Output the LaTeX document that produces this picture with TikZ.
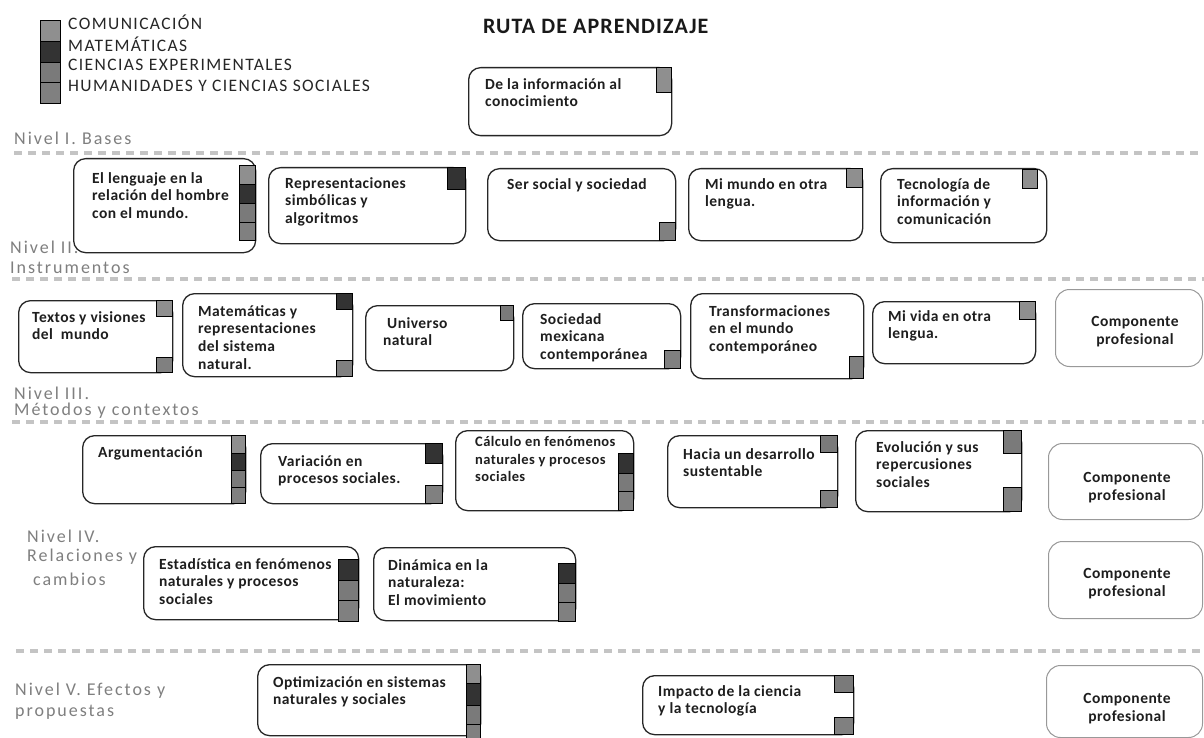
\documentclass[tikz,border=0pt]{standalone}
\usepackage{fontspec}
\setmainfont{Carlito}
\newfontfamily\bxfont[LetterSpace=3]{Carlito}
\newfontfamily\lgfont[LetterSpace=8]{Carlito}
\newfontfamily\nvfont[LetterSpace=11]{Carlito}
\newfontfamily\ttfont[LetterSpace=5]{Carlito}
\definecolor{comm}{HTML}{8F8F8F}
\definecolor{mat}{HTML}{333333}
\definecolor{cienc}{HTML}{7A7A7A}
\definecolor{hum}{HTML}{808080}
\definecolor{nivel}{HTML}{7F7F7F}
\definecolor{bxtext}{HTML}{1E1E1E}
\definecolor{sepgray}{HTML}{C4C4C4}
\newcommand{\sqr}[5]{\draw[sqline, fill=#1] (#2,#3) rectangle (#4,#5);}
\tikzset{
  cbox/.style={draw=black!85, line width=1.3pt, rounded corners=12pt, anchor=north west, inner sep=0pt},
  pbox/.style={draw=black!40, line width=1pt, rounded corners=14pt, anchor=north west, inner sep=0pt},
  sqline/.style={draw=black, line width=0.9pt},
  btxt/.style={anchor=north west, inner sep=0pt, align=left, text=bxtext, font=\bxfont\bfseries\fontsize{15.5}{17.8}\selectfont},
  stxt/.style={anchor=north west, inner sep=0pt, align=left, text=bxtext, font=\bxfont\bfseries\fontsize{14.5}{17.8}\selectfont},
  ctxt/.style={anchor=north, inner sep=0pt, align=center, text=bxtext, font=\bxfont\bfseries\fontsize{15.5}{18.5}\selectfont},
  ntxt/.style={anchor=west, inner sep=0pt, text=nivel, font=\nvfont\fontsize{18}{20}\selectfont},
  ltxt/.style={anchor=west, inner sep=0pt, text=black!85, font=\lgfont\fontsize{17.5}{20}\selectfont},
  ttl/.style={anchor=west, inner sep=0pt, text=black!90, font=\ttfont\bfseries\fontsize{22}{24}\selectfont},
  sepline/.style={draw=sepgray, line width=4pt, dash pattern=on 8pt off 6pt}
}
\begin{document}
\begin{tikzpicture}[x={(1pt,0pt)}, y={(0pt,-1pt)}]
\useasboundingbox[fill=white] (0,0) rectangle (1204,738);

% separators
\draw[sepline] (14,153) -- (1204,153);
\draw[sepline] (12,279) -- (1204,279);
\draw[sepline] (12,422) -- (1204,422);
\draw[sepline] (16,651) -- (1204,651);

% legend
\sqr{comm}{40}{20}{60}{41}
\sqr{mat}{40}{41}{60}{62}
\sqr{cienc}{40}{62}{60}{82}
\sqr{hum}{40}{82}{60}{103}
\node[ltxt] (lg1) at (68,22) {COMUNICACIÓN};
\node[ltxt] (lg2) at (68,44) {MATEMÁTICAS};
\node[ltxt] (lg3) at (68,65) {CIENCIAS EXPERIMENTALES};
\node[ltxt] (lg4) at (68,86) {HUMANIDADES Y CIENCIAS SOCIALES};

\node[ttl] (title) at (483,26) {RUTA DE APRENDIZAJE};

% level labels
\node[ntxt] (n1) at (14,138) {Nivel I. Bases};
\node[ntxt] (n2a) at (10,247) {Nivel II.};
\node[ntxt] (n2b) at (10,268) {Instrumentos};
\node[ntxt] (n3a) at (14,393) {Nivel III.};
\node[ntxt] (n3b) at (14,411) {Métodos y contextos};
\node[ntxt] (n4a) at (27,536) {Nivel IV.};
\node[ntxt] (n4b) at (27,557) {Relaciones y};
\node[ntxt] (n4c) at (33,579) {cambios};
\node[ntxt] (n5a) at (15,691) {Nivel V. Efectos y};
\node[ntxt] (n5b) at (15,712) {propuestas};

% boxes
\node[cbox, minimum width=203pt, minimum height=68pt] (info) at (468,67) {};
\node[cbox, minimum width=182pt, minimum height=94pt] (A) at (73,158) {};
\node[cbox, minimum width=197pt, minimum height=76pt] (B) at (268,167) {};
\node[cbox, minimum width=188pt, minimum height=72pt] (C) at (487,168) {};
\node[cbox, minimum width=174pt, minimum height=72pt] (D) at (688,168) {};
\node[cbox, minimum width=166pt, minimum height=74pt] (E) at (880,168) {};
\node[cbox, minimum width=154pt, minimum height=72pt] (F) at (18,300) {};
\node[cbox, minimum width=170pt, minimum height=83pt] (G) at (182,293) {};
\node[cbox, minimum width=148pt, minimum height=65pt] (H) at (365,305) {};
\node[cbox, minimum width=158pt, minimum height=65pt] (I) at (522,303) {};
\node[cbox, minimum width=173pt, minimum height=85pt] (J) at (690,293) {};
\node[cbox, minimum width=163pt, minimum height=62pt] (K) at (872,301) {};
\node[pbox, minimum width=147pt, minimum height=77pt] (L) at (1055,289) {};
\node[cbox, minimum width=163pt, minimum height=68pt] (M) at (82,435) {};
\node[cbox, minimum width=182pt, minimum height=60pt] (N) at (260,443) {};
\node[cbox, minimum width=178pt, minimum height=80pt] (O) at (455,430) {};
\node[cbox, minimum width=170pt, minimum height=72pt] (R) at (667,435) {};
\node[cbox, minimum width=166pt, minimum height=81pt] (S) at (855,430) {};
\node[pbox, minimum width=154pt, minimum height=76pt] (T) at (1048,443) {};
\node[cbox, minimum width=215pt, minimum height=73pt] (P) at (143,546) {};
\node[cbox, minimum width=202pt, minimum height=73pt] (Q) at (373,547) {};
\node[pbox, minimum width=154pt, minimum height=77pt] (U) at (1048,541) {};
\node[cbox, minimum width=223pt, minimum height=71pt] (V) at (257,664) {};
\node[cbox, minimum width=211pt, minimum height=59pt] (W) at (642,675) {};
\node[pbox, minimum width=156pt, minimum height=72pt] (X) at (1046,665) {};

% squares
\sqr{comm}{656}{67}{671}{92}
\sqr{comm}{239}{165}{255}{184}
\sqr{mat}{239}{184}{255}{203}
\sqr{cienc}{239}{203}{255}{222}
\sqr{hum}{239}{222}{255}{240}
\sqr{mat}{447}{167}{465}{189}
\sqr{hum}{659}{222}{675}{240}
\sqr{comm}{846}{168}{862}{187}
\sqr{comm}{1022}{169}{1037}{188}
\sqr{comm}{156}{300}{172}{316}
\sqr{hum}{156}{357}{172}{372}
\sqr{mat}{336}{293}{352}{309}
\sqr{hum}{336}{360}{352}{376}
\sqr{cienc}{500}{305}{513}{320}
\sqr{hum}{664}{350}{680}{368}
\sqr{hum}{849}{356}{863}{378}
\sqr{comm}{1019}{301}{1035}{319}
\sqr{comm}{231}{435}{245}{453}
\sqr{mat}{231}{453}{245}{470}
\sqr{cienc}{231}{470}{245}{487}
\sqr{hum}{231}{487}{245}{503}
\sqr{mat}{425}{443}{442}{463}
\sqr{hum}{425}{485}{442}{503}
\sqr{mat}{618}{453}{633}{473}
\sqr{cienc}{618}{473}{633}{491}
\sqr{hum}{618}{491}{633}{510}
\sqr{cienc}{820}{435}{837}{452}
\sqr{hum}{820}{490}{837}{507}
\sqr{cienc}{1003}{430}{1021}{453}
\sqr{hum}{1003}{487}{1021}{511}
\sqr{mat}{338}{559}{358}{580}
\sqr{cienc}{338}{580}{358}{600}
\sqr{hum}{338}{600}{358}{621}
\sqr{mat}{558}{563}{575}{583}
\sqr{cienc}{558}{583}{575}{602}
\sqr{hum}{558}{602}{575}{621}
\sqr{comm}{466}{664}{480}{683}
\sqr{mat}{466}{683}{480}{705}
\sqr{cienc}{466}{705}{480}{724}
\sqr{hum}{466}{724}{480}{740}
\sqr{cienc}{834}{675}{853}{692}
\sqr{hum}{834}{717}{853}{734}

% texts
\node[btxt] (info-t) at (485,78) {De la información al\\conocimiento};
\node[btxt] (A-t) at (92,172) {El lenguaje en la\\relación del hombre\\con el mundo.};
\node[btxt] (B-t) at (285,177) {Representaciones\\simbólicas y\\algoritmos};
\node[btxt] (C-t) at (507,178) {Ser social y sociedad};
\node[btxt] (D-t) at (705,178) {Mi mundo en otra\\lengua.};
\node[btxt] (E-t) at (897,178) {Tecnología de\\información y\\comunicación};
\node[btxt] (F-t) at (32,311) {Textos y visiones\\del\ \ mundo};
\node[btxt] (G-t) at (198,305) {Matemáticas y\\representaciones\\del sistema\\natural.};
\node[btxt] (H-t) at (383,317) {\ Universo\\natural};
\node[btxt] (I-t) at (540,313) {Sociedad\\mexicana\\contemporánea};
\node[btxt] (J-t) at (709,305) {Transformaciones\\en el mundo\\contemporáneo};
\node[btxt] (K-t) at (888,310) {Mi vida en otra\\lengua.};
\node[ctxt] (L-t) at (1135,316) {Componente\\profesional};
\node[btxt] (M-t) at (98,446) {Argumentación};
\node[btxt] (N-t) at (278,455) {Variación en\\procesos sociales.};
\node[stxt] (O-t) at (475,436) {Cálculo en fenómenos\\naturales y procesos\\sociales};
\node[btxt] (R-t) at (683,448) {Hacia un desarrollo\\sustentable};
\node[btxt] (S-t) at (876,441) {Evolución y sus\\repercusiones\\sociales};
\node[ctxt] (T-t) at (1127,472) {Componente\\profesional};
\node[btxt] (P-t) at (159,558) {Estadística en fenómenos\\naturales y procesos\\sociales};
\node[btxt] (Q-t) at (388,559) {Dinámica en la\\naturaleza:\\El movimiento};
\node[ctxt] (U-t) at (1127,568) {Componente\\profesional};
\node[btxt] (V-t) at (273,676) {Optimización en sistemas\\naturales y sociales};
\node[btxt] (W-t) at (658,685) {Impacto de la ciencia\\y la tecnología};
\node[ctxt] (X-t) at (1127,693) {Componente\\profesional};
\end{tikzpicture}
\end{document}
